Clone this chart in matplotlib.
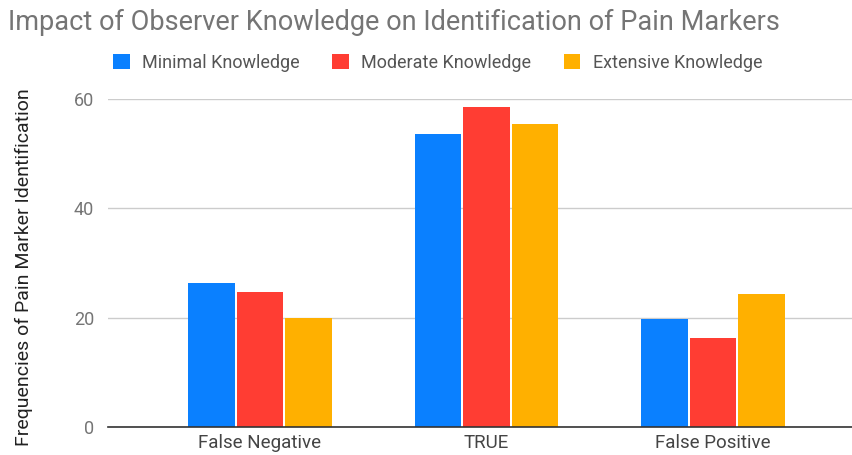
import numpy as np
import matplotlib.pyplot as plt

categories = ["False Negative", "TRUE", "False Positive"]
series_names = ["Minimal Knowledge", "Moderate Knowledge", "Extensive Knowledge"]
minimal = [26.3, 53.7, 19.7]
moderate = [24.7, 58.6, 16.3]
extensive = [20.0, 55.4, 24.3]
yticks = [0, 20, 40, 60]

colors = ["#0a80ff", "#ff3d33", "#ffb000"]

plt.rcParams['font.family'] = ['Roboto', 'DejaVu Sans']

fig = plt.figure(figsize=(8.53, 4.55), dpi=100)
ax = fig.add_axes([108 / 853, 0.0622, 1 - 108 / 853, 0.7196])

x = np.arange(len(categories))
width = 0.205
step = 0.214
for i, (vals, name) in enumerate(zip([minimal, moderate, extensive], series_names)):
    ax.bar(x + (i - 1) * step, vals, width, color=colors[i], label=name, zorder=3)

ax.set_xlim(-0.671, 2.618)
ax.set_ylim(0, 60)
ax.set_yticks(yticks)
ax.set_xticks(x)
ax.set_xticklabels(categories, fontsize=13.5, color="#444444")
ax.tick_params(axis='y', labelsize=13, labelcolor="#757575", length=0, pad=10)
ax.tick_params(axis='x', length=0, pad=5)
ax.grid(axis='y', color="#cccccc", linewidth=1, zorder=0)
for s in ['top', 'right', 'left']:
    ax.spines[s].set_visible(False)
ax.spines['bottom'].set_color("#333333")
ax.spines['bottom'].set_linewidth(1.2)
ax.spines['bottom'].set_zorder(4)

fig.text(24 / 853, 1 - 267 / 455, "Frequencies of Pain Marker Identification", rotation=90,
         fontsize=14, color="#222222", va='center', ha='center')

fig.text(8 / 853, 1 - 22 / 455, "Impact of Observer Knowledge on Identification of Pain Markers",
         fontsize=19.5, color="#757575", va='center', ha='left')

fig.legend(loc='center left', bbox_to_anchor=(97 / 853, 1 - 63 / 455), ncol=3, frameon=False,
           fontsize=13, handlelength=0.9, handleheight=0.9, handletextpad=0.7, columnspacing=1.8,
           labelcolor="#555555")

plt.savefig("out.png", dpi=100)
